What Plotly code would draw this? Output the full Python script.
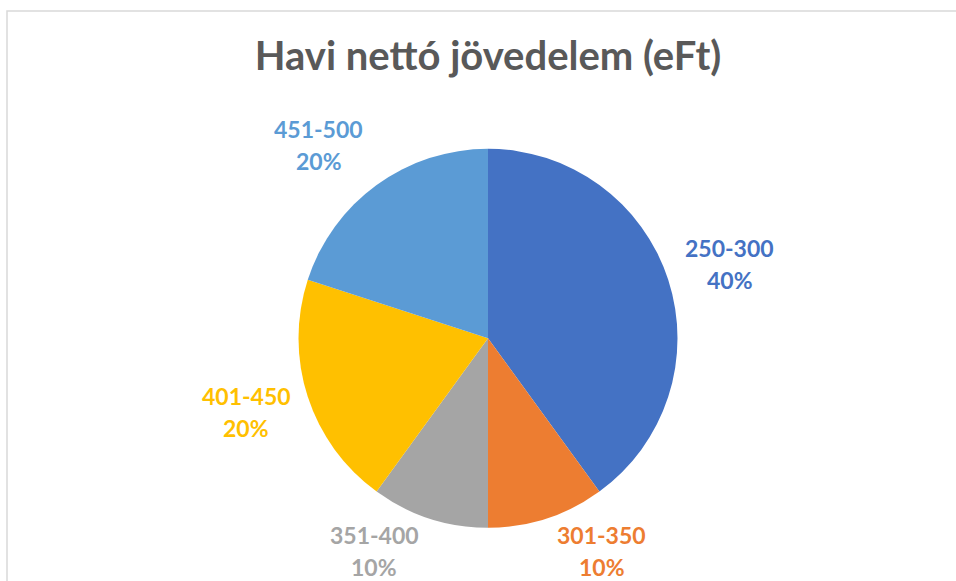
import math
import plotly.graph_objects as go

categories = ["250-300", "301-350", "351-400", "401-450", "451-500"]
values = [40, 10, 10, 20, 20]
colors = ["#4472C4", "#ED7D31", "#A5A5A5", "#FFC000", "#5B9BD5"]
chart_title = "Havi nettó jövedelem (eFt)"

W, H = 956, 581
FONT = "Lato"

dom_x = [298.5 / W, 677.5 / W]
dom_y = [1 - 527.8 / H, 1 - 148.8 / H]

fig = go.Figure(
    go.Pie(
        labels=categories,
        values=values,
        sort=False,
        direction="clockwise",
        rotation=0,
        marker=dict(colors=colors, line=dict(width=0)),
        textinfo="none",
        hoverinfo="label+percent",
        showlegend=False,
        domain=dict(x=dom_x, y=dom_y),
    )
)

# label placement derived from slice mid-angles (pixel space, y downwards)
cx = (dom_x[0] + dom_x[1]) / 2 * W
cy = (1 - (dom_y[0] + dom_y[1]) / 2) * H
R = min((dom_x[1] - dom_x[0]) * W, (dom_y[1] - dom_y[0]) * H) / 2
gap = 10
total = sum(values)
annotations = []
cum = 0
for cat, v, col in zip(categories, values, colors):
    mid = (cum + v / 2) / total * 2 * math.pi
    cum += v
    dx = math.sin(mid)
    dy = -math.cos(mid)
    px = cx + (R + gap) * dx + 52 * (1 if dx >= 0 else -1)
    py = cy + (R + gap) * dy + 40 * dy
    py = min(py, H - 30)
    pct = f"{round(v / total * 100)}%"
    for txt, off in ((cat, -16), (pct, 16)):
        annotations.append(
            dict(
                x=px / W, y=1 - (py + off) / H, xref="paper", yref="paper",
                text=txt, showarrow=False, xanchor="center", yanchor="middle",
                font=dict(family=FONT, size=23, color=col, weight=700),
            )
        )

fig.update_layout(
    width=W,
    height=H,
    margin=dict(l=0, r=0, t=0, b=0),
    paper_bgcolor="white",
    plot_bgcolor="white",
    title=dict(
        text=chart_title, x=488 / W, xanchor="center", xref="paper",
        y=1 - 56 / H, yanchor="middle", yref="paper",
        font=dict(family=FONT, size=40, color="#595959", weight=700),
    ),
    annotations=annotations,
    shapes=[
        dict(type="rect", xref="paper", yref="paper",
             x0=7 / W, x1=1.01, y0=-0.01, y1=1 - 11 / H,
             line=dict(color="#D9D9D9", width=1.5), fillcolor="rgba(0,0,0,0)", layer="below")
    ],
)

fig.write_html(
    "out.html",
    config={"displayModeBar": False},
    post_script="document.body.style.margin='0';document.body.style.overflow='hidden';",
)
